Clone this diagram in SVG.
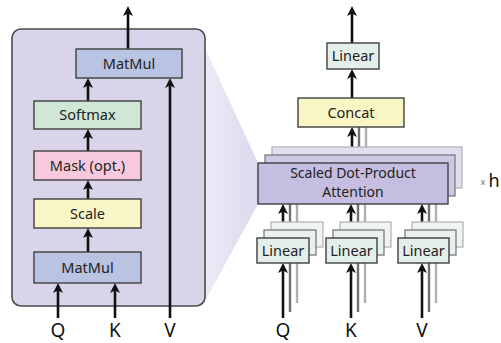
<svg xmlns="http://www.w3.org/2000/svg" width="501" height="343" viewBox="0 0 501 343">
<style>
.box{stroke:#3f3f3f;stroke-width:1.4}
.t{font-family:"Noto Sans","Open Sans",sans-serif;font-size:14.5px;fill:#222;text-anchor:middle}
.lbl{font-family:"Noto Sans","Open Sans",sans-serif;font-size:19px;fill:#111;text-anchor:middle}
.arr{stroke:#111;stroke-width:2.6;fill:none;marker-end:url(#ah)}
.g1{stroke:#707070;stroke-width:2.4;fill:none}
.g2{stroke:#b0b0b0;stroke-width:2.4;fill:none}
.matmul{fill:#b9c3e2}
.softmax{fill:#cfe7d4}
.mask{fill:#f6c9dc}
.yellow{fill:#f8f6c4}
.linear{fill:#e4efeb}
.att{fill:#c6bee0}
.l1{stroke:#7a7a7a;stroke-width:1.3}
.l2{stroke:#b5b5b5;stroke-width:1.3}
</style>
<defs>
<marker id="ah" viewBox="0 0 10 10" refX="5" refY="5" markerWidth="10" markerHeight="11" markerUnits="userSpaceOnUse" orient="auto">
<path d="M0,0 L10,5 L0,10 L2.5,5 z" fill="#111"/>
</marker>
<linearGradient id="wg" x1="0" y1="0" x2="1" y2="0">
<stop offset="0" stop-color="#eceaf6"/>
<stop offset="1" stop-color="#dcd8ee"/>
</linearGradient>
</defs>
<rect width="501" height="343" fill="#ffffff"/>

<g id="wedge">
<polygon points="205,48 258,163 258,204 205,301" fill="url(#wg)"/>
</g>

<g id="sdpa-panel">
<rect x="12" y="29" width="193" height="277" rx="9" fill="#d9d4e9" stroke="#4a4a4a" stroke-width="1.6"/>
</g>

<g id="connectors">
<line class="arr" x1="128" y1="49" x2="128" y2="11"/>
<line class="arr" x1="88" y1="101" x2="88" y2="83"/>
<line class="arr" x1="88" y1="151" x2="88" y2="134"/>
<line class="arr" x1="88" y1="199" x2="88" y2="185"/>
<line class="arr" x1="88" y1="252" x2="88" y2="233"/>
<line class="arr" x1="58" y1="318" x2="58" y2="288"/>
<line class="arr" x1="115" y1="318" x2="115" y2="288"/>
<line class="arr" x1="170" y1="318" x2="170" y2="83"/>
<line class="arr" x1="352" y1="43" x2="352" y2="11"/>
<line class="arr" x1="352" y1="98" x2="352" y2="74"/>
<line class="g2" x1="366" y1="147" x2="366" y2="127"/>
<line class="g1" x1="359" y1="155" x2="359" y2="127"/>
<line class="arr" x1="352" y1="163" x2="352" y2="132"/>
<line class="g2" x1="297" y1="223" x2="297" y2="204"/>
<line class="g1" x1="290" y1="231" x2="290" y2="204"/>
<line class="arr" x1="283" y1="238" x2="283" y2="209"/>
<line class="g2" x1="365" y1="223" x2="365" y2="204"/>
<line class="g1" x1="358" y1="231" x2="358" y2="204"/>
<line class="arr" x1="351" y1="238" x2="351" y2="209"/>
<line class="g2" x1="436" y1="223" x2="436" y2="204"/>
<line class="g1" x1="429" y1="231" x2="429" y2="204"/>
<line class="arr" x1="422" y1="238" x2="422" y2="209"/>
<line class="g2" x1="297" y1="303" x2="297" y2="247"/>
<line class="g1" x1="290" y1="312" x2="290" y2="255"/>
<line class="arr" x1="283" y1="318" x2="283" y2="268"/>
<line class="g2" x1="365" y1="303" x2="365" y2="247"/>
<line class="g1" x1="358" y1="312" x2="358" y2="255"/>
<line class="arr" x1="351" y1="318" x2="351" y2="268"/>
<line class="g2" x1="436" y1="303" x2="436" y2="247"/>
<line class="g1" x1="429" y1="312" x2="429" y2="255"/>
<line class="arr" x1="422" y1="318" x2="422" y2="268"/>
</g>

<g id="matmul-top">
<rect class="box matmul" x="76" y="49" width="106" height="29"/>
<text class="t" x="129" y="68.5">MatMul</text>
</g>
<g id="softmax">
<rect class="box softmax" x="34" y="101" width="107" height="28"/>
<text class="t" x="87.5" y="120">Softmax</text>
</g>
<g id="mask">
<rect class="box mask" x="34" y="151" width="107" height="29"/>
<text class="t" x="87.5" y="170.5">Mask (opt.)</text>
</g>
<g id="scale">
<rect class="box yellow" x="34" y="199" width="107" height="29"/>
<text class="t" x="87.5" y="218.5">Scale</text>
</g>
<g id="matmul-bottom">
<rect class="box matmul" x="34" y="252" width="107" height="31"/>
<text class="t" x="87.5" y="272.5">MatMul</text>
</g>
<g id="labels-left">
<text class="lbl" x="58" y="337">Q</text>
<text class="lbl" x="115" y="337">K</text>
<text class="lbl" x="170" y="337">V</text>
</g>

<g id="linear-top">
<rect class="box linear" x="327" y="43" width="52" height="26"/>
<text class="t" x="353" y="61">Linear</text>
</g>
<g id="concat">
<rect class="box yellow" x="298" y="98" width="106" height="29"/>
<text class="t" x="351" y="117.5">Concat</text>
</g>
<g id="attention">
<rect class="l2" fill="#e2def0" x="272" y="147" width="190" height="41"/>
<rect class="l1" fill="#cfc8e5" x="265" y="155" width="190" height="41"/>
<rect class="box att" x="258" y="163" width="190" height="41"/>
<text class="t" x="353" y="178" style="font-size:14px">Scaled Dot-Product</text>
<text class="t" x="353" y="197" style="font-size:14px">Attention</text>
</g>
<g id="heads">
<text x="483" y="185" font-family="Noto Sans, sans-serif" font-size="9" fill="#777" text-anchor="middle">x</text>
<text x="488.5" y="187" font-family="Noto Sans, sans-serif" font-size="18" fill="#111">h</text>
</g>
<g id="linear-q">
<rect class="l2" fill="#eef4f1" x="271" y="222" width="52" height="25"/>
<rect class="l1" fill="#e8f1ed" x="264" y="230" width="52" height="25"/>
<rect class="box linear" x="257" y="238" width="52" height="25"/>
<text class="t" x="283" y="255.5">Linear</text>
</g>
<g id="linear-k">
<rect class="l2" fill="#eef4f1" x="340" y="222" width="51" height="25"/>
<rect class="l1" fill="#e8f1ed" x="333" y="230" width="51" height="25"/>
<rect class="box linear" x="326" y="238" width="51" height="25"/>
<text class="t" x="351.5" y="255.5">Linear</text>
</g>
<g id="linear-v">
<rect class="l2" fill="#eef4f1" x="412" y="222" width="51" height="25"/>
<rect class="l1" fill="#e8f1ed" x="405" y="230" width="51" height="25"/>
<rect class="box linear" x="398" y="238" width="51" height="25"/>
<text class="t" x="423.5" y="255.5">Linear</text>
</g>
<g id="labels-right">
<text class="lbl" x="283" y="337">Q</text>
<text class="lbl" x="351" y="337">K</text>
<text class="lbl" x="422" y="337">V</text>
</g>
</svg>
